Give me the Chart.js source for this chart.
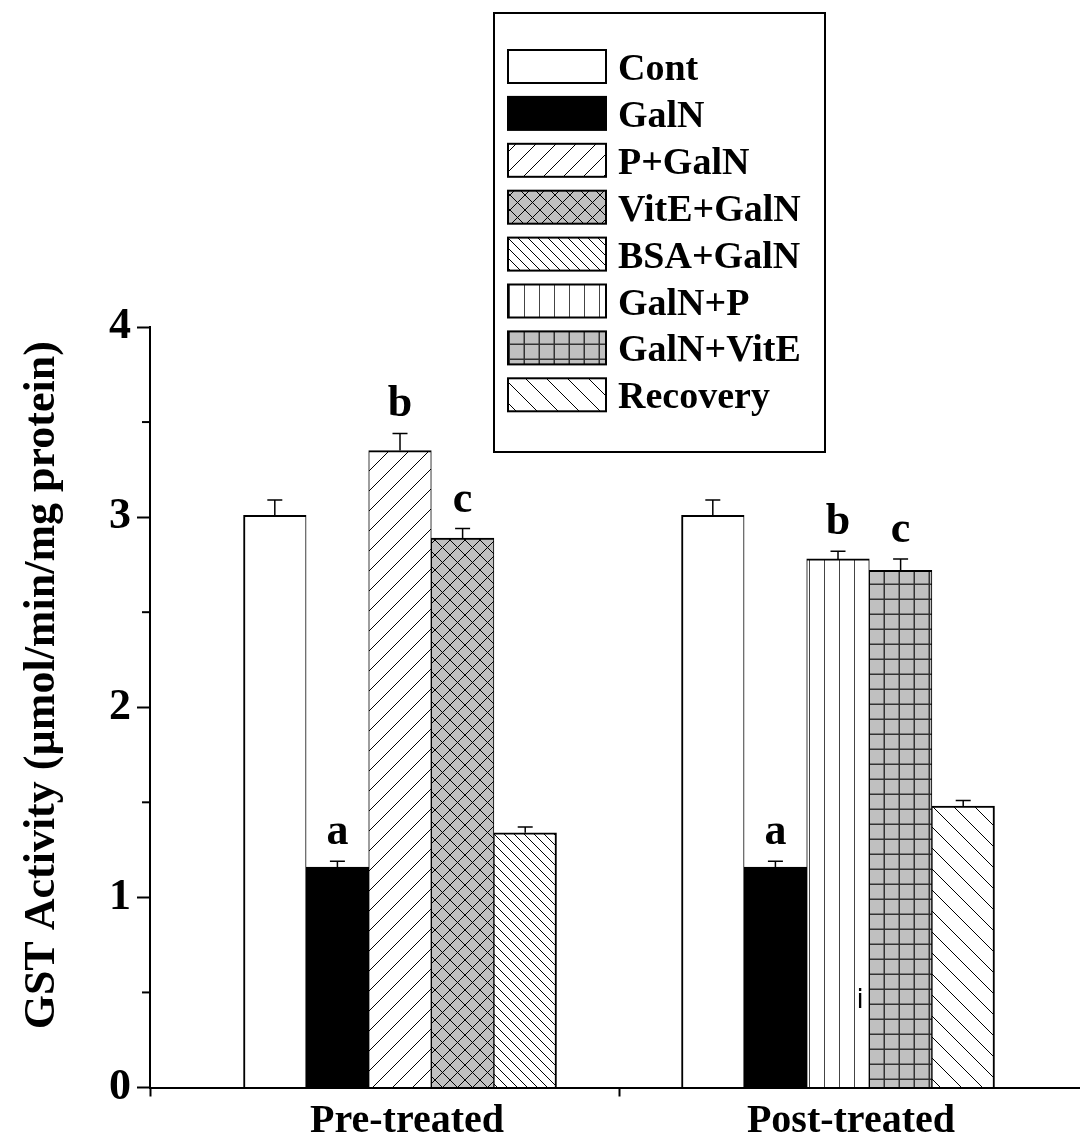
<!DOCTYPE html>
<html><head><meta charset="utf-8">
<script src="https://cdn.jsdelivr.net/npm/chart.js@4.4.0/dist/chart.umd.min.js"></script>
<style>html,body{margin:0;padding:0;background:#fff;overflow:hidden}#wrap{width:1080px;height:1134px;position:relative}</style>
</head><body><div id="wrap"><canvas id="c"></canvas></div>
<script>
// ---- data ----
const categories = ['Pre-treated', 'Post-treated'];
const seriesNames = ['Cont', 'GalN', 'P+GalN', 'VitE+GalN', 'BSA+GalN', 'GalN+P', 'GalN+VitE', 'Recovery'];
const contValues      = [3.01, 3.01];
const galnValues      = [1.16, 1.16];
const pGalnValues     = [3.35, null];
const vitEGalnValues  = [2.89, null];
const bsaGalnValues   = [1.34, null];
const galnPValues     = [null, 2.78];
const galnVitEValues  = [null, 2.72];
const recoveryValues  = [null, 1.48];
const contErrors      = [0.08, 0.08];
const galnErrors      = [0.03, 0.03];
const pGalnErrors     = [0.09, null];
const vitEGalnErrors  = [0.05, null];
const bsaGalnErrors   = [0.03, null];
const galnPErrors     = [null, 0.04];
const galnVitEErrors  = [null, 0.06];
const recoveryErrors  = [null, 0.03];
const galnLetters     = ['a', 'a'];
const pGalnLetters    = ['b', null];
const vitEGalnLetters = ['c', null];
const galnPLetters    = [null, 'b'];
const galnVitELetters = [null, 'c'];
const yTickValues = [0, 1, 2, 3, 4];
const yTitle = 'GST Activity (\u00b5mol/min/mg protein)';
const strayText = {series: 'GalN+P', category: 1, value: 0.42, text: 'i'};

const SERIF = '"Liberation Serif", "Times New Roman", serif';

// ---- patterns ----
function makePattern(kind) {
  const c = document.createElement('canvas');
  const g = c.getContext('2d');
  let s = 20;
  const line = (x1, y1, x2, y2) => { g.beginPath(); g.moveTo(x1, y1); g.lineTo(x2, y2); g.stroke(); };
  if (kind === 'fwd') { s = 20; }
  if (kind === 'cross') { s = 15; }
  if (kind === 'backDense') { s = 10; }
  if (kind === 'vert') { s = 15; }
  if (kind === 'grid') { s = 15; }
  if (kind === 'backSparse') { s = 21; }
  c.width = s; c.height = s;
  const grey = (kind === 'cross' || kind === 'grid');
  g.fillStyle = grey ? '#c0c0c0' : '#ffffff';
  g.fillRect(0, 0, s, s);
  g.strokeStyle = '#000';
  g.lineWidth = 1;
  if (kind === 'fwd' || kind === 'cross') {
    for (let k = -1; k <= 1; k++) line(k * s, s, k * s + s, 0);
  }
  if (kind === 'backDense' || kind === 'backSparse' || kind === 'cross') {
    for (let k = -1; k <= 1; k++) line(k * s, 0, k * s + s, s);
  }
  if (kind === 'vert') {
    g.strokeStyle = '#444';
    line(s - 0.5, 0, s - 0.5, s);
  }
  if (kind === 'grid') {
    g.strokeStyle = '#333';
    g.lineWidth = 1.5;
    line(s - 0.75, 0, s - 0.75, s);
    line(0, s - 0.75, s, s - 0.75);
  }
  return document.createElement('canvas').getContext('2d').createPattern(c, 'repeat');
}

const fills = [
  '#ffffff', '#000000', makePattern('fwd'), makePattern('cross'),
  makePattern('backDense'), makePattern('vert'), makePattern('grid'), makePattern('backSparse')
];
const valuesList = [contValues, galnValues, pGalnValues, vitEGalnValues, bsaGalnValues, galnPValues, galnVitEValues, recoveryValues];
const errorsList = [contErrors, galnErrors, pGalnErrors, vitEGalnErrors, bsaGalnErrors, galnPErrors, galnVitEErrors, recoveryErrors];
const lettersList = [null, galnLetters, pGalnLetters, vitEGalnLetters, null, galnPLetters, galnVitELetters, null];
const firstInGroup = ['Cont'];
const lastInGroup = ['BSA+GalN', 'Recovery'];

const datasets = seriesNames.map((name, si) => ({
  label: name,
  data: valuesList[si].map((v, i) => ({x: i, y: v})),
  errors: errorsList[si],
  letters: lettersList[si],
  backgroundColor: fills[si],
  borderColor: '#000',
  borderWidth: {
    top: 2, bottom: 0,
    left: firstInGroup.includes(name) ? 2 : 1,
    right: lastInGroup.includes(name) ? 2 : 1
  },
  borderSkipped: false,
  barThickness: 62.6,
  skipNull: true,
  xAxisID: 'x', yAxisID: 'y'
}));

// ---- plugins ----
const errorPlugin = {
  id: 'errorsAndLetters',
  afterDatasetsDraw(chart) {
    const ctx = chart.ctx, ys = chart.scales.y;
    ctx.save();
    chart.data.datasets.forEach((ds, di) => {
      const meta = chart.getDatasetMeta(di);
      meta.data.forEach((bar, i) => {
        const v = ds.data[i].y, e = ds.errors[i];
        if (v == null) return;
        let topY = bar.y;
        if (e != null) {
          topY = ys.getPixelForValue(v + e);
          ctx.strokeStyle = '#000'; ctx.lineWidth = 1.5;
          ctx.beginPath();
          ctx.moveTo(bar.x, bar.y); ctx.lineTo(bar.x, topY);
          ctx.moveTo(bar.x - 7.5, topY); ctx.lineTo(bar.x + 7.5, topY);
          ctx.stroke();
        }
        if (ds.letters && ds.letters[i]) {
          ctx.fillStyle = '#000';
          ctx.font = 'bold 44px ' + SERIF;
          ctx.textAlign = 'center'; ctx.textBaseline = 'alphabetic';
          ctx.fillText(ds.letters[i], bar.x, topY - 17);
        }
      });
    });
    // stray small text inside a bar
    const si = seriesNames.indexOf(strayText.series);
    const b = chart.getDatasetMeta(si).data[strayText.category];
    if (b) {
      ctx.fillStyle = '#000';
      ctx.font = '26px "DejaVu Sans", sans-serif';
      ctx.textAlign = 'center'; ctx.textBaseline = 'alphabetic';
      ctx.fillText(strayText.text, b.x + 22, ys.getPixelForValue(strayText.value));
    }
    ctx.restore();
  }
};

const minorTickPlugin = {
  id: 'minorTicks',
  afterDraw(chart) {
    const ctx = chart.ctx, ys = chart.scales.y;
    ctx.save();
    ctx.strokeStyle = '#000'; ctx.lineWidth = 2;
    for (let i = 0; i < yTickValues.length - 1; i++) {
      const mid = (yTickValues[i] + yTickValues[i + 1]) / 2;
      const py = ys.getPixelForValue(mid);
      ctx.beginPath(); ctx.moveTo(ys.right - 8, py); ctx.lineTo(ys.right, py); ctx.stroke();
    }
    ctx.restore();
  }
};

const legendPlugin = {
  id: 'boxLegend',
  afterDraw(chart) {
    const ctx = chart.ctx;
    ctx.save();
    ctx.lineWidth = 2; ctx.strokeStyle = '#000';
    ctx.fillStyle = '#fff';
    ctx.fillRect(494, 13, 331, 439);
    ctx.strokeRect(494, 13, 331, 439);
    chart.data.datasets.forEach((ds, i) => {
      const y = 50 + i * 46.9;
      ctx.fillStyle = ds.backgroundColor;
      ctx.fillRect(508, y, 98, 33);
      ctx.lineWidth = 2; ctx.strokeStyle = '#000';
      ctx.strokeRect(508, y, 98, 33);
      ctx.fillStyle = '#000';
      ctx.font = 'bold 38px ' + SERIF;
      ctx.textAlign = 'left'; ctx.textBaseline = 'alphabetic';
      ctx.fillText(ds.label, 618, y + 30);
    });
    ctx.restore();
  }
};

function draw() {
  new Chart(document.getElementById('c'), {
    type: 'bar',
    data: {datasets},
    plugins: [errorPlugin, minorTickPlugin, legendPlugin],
    options: {
      responsive: true, maintainAspectRatio: false, animation: false,
      layout: {padding: {top: 327, left: 0, right: 0, bottom: 0}},
      plugins: {legend: {display: false}, tooltip: {enabled: false}},
      scales: {
        x: {
          type: 'linear', position: 'bottom', min: -0.5708, max: 1.5525, offset: false, weight: 0,
          grid: {display: true, drawOnChartArea: false, drawTicks: true, tickLength: 9, tickWidth: 2, tickColor: '#000', offset: false},
          border: {display: true, color: '#000', width: 2},
          ticks: {display: false},
          afterBuildTicks(s) { s.ticks = [{value: s.min}, {value: (0 + categories.length - 1) / 2}]; },
          afterFit(s) { s.height = 10; }
        },
        x2: {
          type: 'linear', position: 'bottom', min: -0.579, max: 1.516, offset: false, weight: 1,
          grid: {display: false, drawTicks: false, offset: false},
          border: {display: false},
          ticks: {
            autoSkip: false, maxRotation: 0, padding: 0, color: '#000',
            font: {family: SERIF, size: 40, weight: 'bold'},
            callback: (v) => categories[v]
          },
          afterBuildTicks(s) { s.ticks = categories.map((c, i) => ({value: i})); },
          afterFit(s) { s.height = 36.5; }
        },
        y: {
          type: 'linear', min: 0, max: 4,
          grid: {display: true, drawOnChartArea: false, drawTicks: true, tickLength: 13, tickWidth: 2, tickColor: '#000'},
          border: {display: true, color: '#000', width: 2},
          ticks: {padding: 6, color: '#000', font: {family: SERIF, size: 44, weight: 'bold'}},
          afterBuildTicks(s) { s.ticks = yTickValues.map(v => ({value: v})); },
          title: {display: true, text: '    ' + yTitle, color: '#000', font: {family: SERIF, size: 44, weight: 'bold'}, padding: {top: 16, bottom: 0}},
          afterFit(s) { s.width = 150; }
        }
      }
    }
  });
}
document.fonts.load('bold 40px "Liberation Serif"').then(draw, draw);
</script>
</body></html>
